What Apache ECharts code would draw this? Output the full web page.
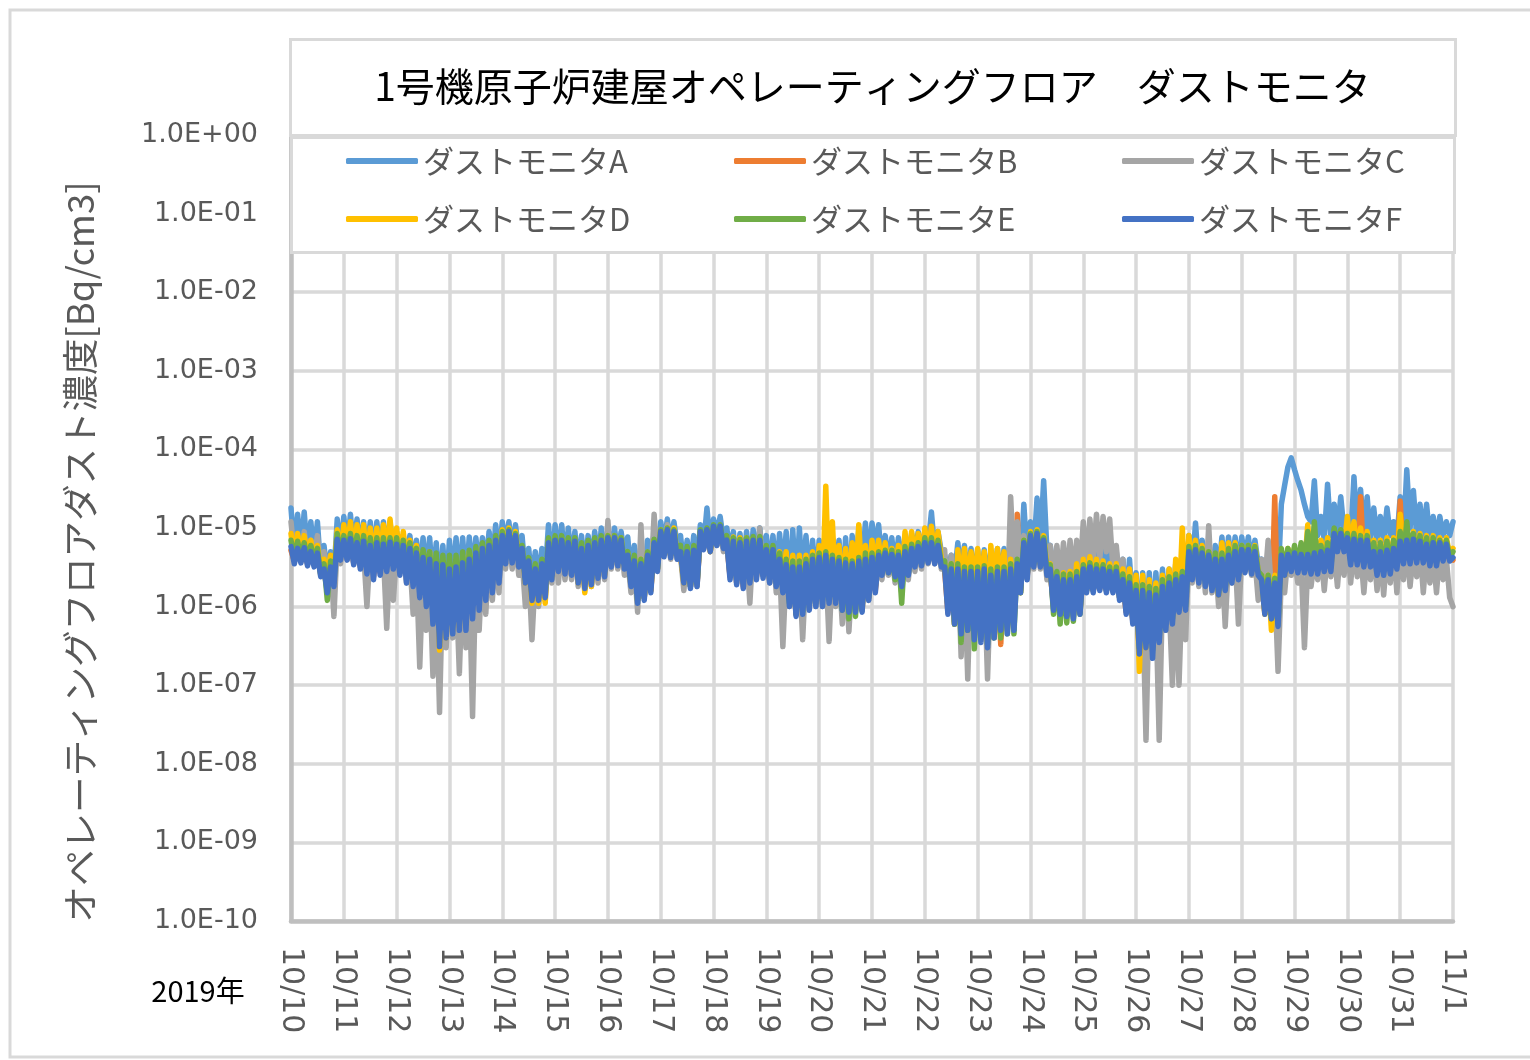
<!DOCTYPE html>
<html><head><meta charset="utf-8">
<script src="https://cdn.jsdelivr.net/npm/echarts@6/dist/echarts.min.js"></script>
<style>html,body{margin:0;padding:0;background:#fff}#c{width:1530px;height:1060px}</style>
</head><body><div id="c"></div>
<script>
// 2019-10-10 00:00 to 11-01 00:00, one reading every 1.5 hours (values in units of 1e-6 Bq/cm3)
const UNIT = 1e-6;
const STEP_HOURS = 1.5;
const titleText = '1号機原子炉建屋オペレーティングフロア　ダストモニタ';
const yAxisTitle = 'オペレーティングフロアダスト濃度[Bq/cm3]';
const yearLabel = '2019年';
const dateLabels = ['10/10','10/11','10/12','10/13','10/14','10/15','10/16','10/17','10/18','10/19','10/20','10/21','10/22','10/23','10/24','10/25','10/26','10/27','10/28','10/29','10/30','10/31','11/1'];
const yTickLabels = ['1.0E-10','1.0E-09','1.0E-08','1.0E-07','1.0E-06','1.0E-05','1.0E-04','1.0E-03','1.0E-02','1.0E-01','1.0E+00'];
const monitorNames = ['ダストモニタA','ダストモニタB','ダストモニタC','ダストモニタD','ダストモニタE','ダストモニタF'];
const monitorColors = ['#5B9BD5','#ED7D31','#A5A5A5','#FFC000','#70AD47','#4472C4'];

const monitorA = [
18,5.0,15,5.0,16,4.5,12,4.5,12,3.0,6.0,2.5,5.0,2.5,13,5.0,
14,5.0,15,5.0,13,5.0,12,4.0,12,4.0,12,4.0,12,4.5,12,4.5,
9.0,4.0,8.0,3.5,8.0,3.5,7.0,2.5,7.5,2.5,7.5,2.0,6.5,1.5,6.0,1.5,
7.0,2.0,7.5,2.0,7.5,2.0,7.7,2.5,7.5,3.0,7.5,3.0,9.0,3.5,11,4.0,
12,6.0,12,5.0,11,5.0,8.0,2.5,5.5,2.0,5.0,2.0,5.5,2.5,11,3.0,
11,4.0,11,3.5,10,3.5,9.0,3.0,8.0,3.0,8.0,3.0,9.0,3.5,10,3.5,
10,5.0,10,4.5,9.0,4.5,7.7,2.5,6.0,2.0,6.0,2.0,7.0,3.0,9.0,3.5,
12,6.0,13,6.0,12,6.0,8.0,3.0,7.0,3.0,8.0,3.0,11,6.0,18,6.0,
13,8.0,14,7.0,10,5.0,9.0,3.0,8.5,3.0,9.0,3.0,9.5,4.0,10,4.0,
8.0,3.0,8.0,2.5,8.5,2.5,9.0,1.5,9.5,1.5,10,2.0,8.0,2.0,7.0,2.0,
7.0,2.0,7.5,2.5,7.5,2.5,7.0,1.5,7.5,1.5,8.0,2.0,10,3.0,11.6,3.5,
11.6,5.0,11,3.5,8.0,3.5,7.5,3.0,7.5,3.0,8.0,3.5,8.5,5.0,9.0,5.0,
9.0,6.0,16,5.0,9.0,5.0,4.5,3.0,4.5,2.5,6.5,2.5,6.0,2.0,5.5,2.0,
5.3,2.0,5.3,2.0,5.0,2.0,5.5,2.0,5.5,2.0,6.0,3.0,8.0,3.0,20,4.0,
12,5.0,24,6.0,40,5.0,6.0,2.5,5.3,2.0,5.0,2.0,4.6,2.0,4.6,2.0,
7.0,2.0,7.7,2.0,7.0,2.0,6.0,2.0,5.0,2.0,5.0,1.5,4.0,1.0,4.0,1.0,
2.7,0.5,2.7,0.5,2.7,0.5,2.7,0.6,3.0,0.8,3.0,1.0,3.5,1.0,4.0,1.2,
8.0,3.0,11.6,3.0,7.0,3.0,6.0,2.5,6.0,2.5,7.7,2.5,7.7,3.0,7.7,3.0,
7.7,4.0,7.7,3.5,7.0,3.5,4.0,2.0,4.0,2.0,5.0,2.0,20,35,60,78,
55,40,30,20,14,12,40,8,14,7,36,8,20,9,25,9,
9,7,45,8,31,8,25,7,18,7,14,7,18,8,12,7,
25,8,55,10,30,8,20,8,20,7,14,7,14,8,12,8,
12];
const monitorB = [
5.2,3.8,5.0,3.8,5.0,3.5,4.5,3.4,4.3,2.6,2.8,1.7,3.0,2.0,6.5,4.0,
6.3,4.0,6.5,3.6,6.0,3.2,6.0,2.8,5.5,2.4,6.0,2.7,5.6,3.0,6.0,3.2,
5.6,2.7,5.4,2.2,5.0,2.0,4.3,1.4,3.8,1.1,3.6,0.7,3.2,0.35,3.0,0.45,
2.7,0.5,2.9,0.55,3.2,0.55,3.6,0.75,4.3,1.0,5.0,1.3,5.4,1.6,6.3,2.2,
7.2,3.8,8.0,3.8,7.2,3.4,5.0,2.2,3.4,1.3,2.8,1.3,3.2,1.4,5.8,2.4,
6.3,3.0,6.3,2.8,5.8,2.7,6.1,2.2,5.0,1.8,5.4,2.0,5.8,2.5,6.3,2.6,
6.8,3.4,6.8,3.5,6.3,3.2,4.0,1.9,3.4,1.2,3.2,1.3,4.0,1.6,5.8,3.0,
8.1,4.6,8.5,4.5,8.1,4.2,4.5,2.2,4.5,1.8,4.7,1.9,8.1,5.5,8.5,5.3,
9.4,6.3,9.4,5.8,6.3,2.4,6.1,2.0,5.8,1.8,6.1,2.1,6.3,2.4,6.3,2.5,
4.8,2.2,4.8,1.9,3.6,1.6,3.1,1.1,2.9,0.8,2.9,0.85,3.2,1.0,3.6,1.1,
3.8,1.1,4.0,1.2,3.6,1.2,3.4,1.0,3.2,0.9,3.2,0.9,3.4,0.9,3.6,1.3,
3.8,1.6,4.0,2.7,4.3,2.9,4.1,2.6,4.0,1.9,4.5,2.7,5.0,3.4,5.2,3.5,
5.8,3.8,5.8,3.7,5.4,3.4,2.9,0.85,2.7,0.65,2.7,0.48,2.5,0.55,2.5,0.4,
2.5,0.38,2.7,0.33,2.3,0.42,2.5,0.33,2.5,0.5,4.0,0.55,15,1.6,6.0,2.4,
7.2,3.4,7.6,3.4,6.3,2.7,2.7,1.0,2.2,0.85,2.0,0.8,2.0,0.75,2.2,0.85,
2.7,1.6,4.0,1.6,2.7,1.7,2.7,1.6,2.5,1.6,2.5,1.3,2.0,0.85,1.8,0.65,
1.4,0.27,1.4,0.32,1.35,0.24,1.3,0.38,1.6,0.55,1.8,0.65,2.0,0.9,2.2,1.0,
4.5,2.4,4.8,2.2,4.3,1.9,4.0,1.7,3.6,1.5,3.6,1.7,4.0,2.1,4.5,2.4,
4.8,2.9,4.8,2.8,4.5,2.7,2.0,0.85,2.0,0.75,25,0.6,4.0,2.7,4.1,3.0,
4.3,2.9,4.1,2.9,4.1,2.8,4.3,2.8,4.5,3.0,4.7,3.0,7.6,5.3,7.6,5.3,
6.8,3.6,6.5,3.6,25,3.4,6.3,3.4,4.5,2.7,4.5,2.7,4.7,2.8,5.0,3.2,
22,3.7,6.3,3.7,6.5,3.8,6.1,3.8,5.6,3.5,5.8,3.5,5.8,4.0,5.6,4.0,
3.9];
const monitorC = [
12,4.5,8.0,5.0,9.0,4.0,7.0,4.0,8.0,3.0,5.0,3.0,4.0,0.75,6.5,3.5,
7.0,4.0,7.0,3.5,6.5,3.5,5.0,1.0,5.5,3.0,5.0,3.0,4.5,0.53,5.0,1.2,
5.0,3.0,5.0,2.0,4.0,0.8,3.0,0.17,3.0,0.5,2.5,0.13,2.0,0.045,2.5,0.3,
2.5,0.4,2.0,0.14,2.5,0.3,2.0,0.04,3.0,0.5,4.0,0.8,5.0,1.2,6.0,1.5,
8.0,3.0,8.0,3.0,7.0,2.5,4.0,1.0,3.0,0.38,2.5,1.0,3.0,1.2,5.5,2.0,
6.5,2.0,6.5,2.2,6.0,2.2,6.0,1.8,5.0,1.6,5.5,1.8,6.0,2.0,6.0,2.2,
12.5,3.0,7.0,3.0,6.0,2.5,4.0,1.5,3.5,0.85,11,1.5,5.0,2.0,15,3.0,
9.0,5.0,11,4.0,8.0,4.0,4.5,1.6,4.5,1.8,5.0,1.8,8.0,5.5,9.0,5.0,
9.0,6.0,9.0,5.0,6.5,2.5,6.0,2.0,6.0,2.0,5.0,1.1,6.0,2.5,10,2.5,
5.0,2.0,5.0,1.5,3.5,0.31,3.0,1.0,3.0,0.9,3.0,0.38,3.0,1.0,4.0,1.0,
4.0,1.0,3.5,0.36,3.5,1.0,3.0,0.6,3.0,0.48,2.5,1.0,3.0,1.0,3.5,1.2,
4.0,2.0,4.0,2.2,4.5,2.5,4.5,2.0,4.5,1.5,5.0,2.2,5.5,2.8,6.0,3.0,
7.0,3.5,7.0,3.5,6.5,3.0,5.3,1.0,4.5,0.6,4.0,0.23,3.0,0.12,3.5,0.5,
3.0,0.5,2.5,0.12,2.5,0.4,3.0,0.6,4.0,1.0,25,3.0,12,4.0,8.0,3.0,
7.0,3.0,7.0,3.0,6.5,2.2,6.0,2.2,6.0,2.0,6.5,2.0,7.0,2.2,7.0,2.5,
12,3.0,13,4.0,15,4.0,14,5.0,13,3.0,6.0,2.0,4.0,1.0,3.0,0.8,
1.5,0.3,1.2,0.02,1.5,0.3,1.0,0.02,1.5,0.5,1.2,0.1,1.5,0.1,2.0,0.38,
5.0,2.0,5.0,1.8,4.5,1.5,10.7,1.5,4.0,1.0,4.0,0.56,4.0,2.0,4.5,0.6,
4.5,3.0,4.5,2.5,4.0,1.2,4.0,2.0,7.0,1.5,2.0,0.15,2.5,1.5,4.5,2.5,
4.0,2.0,3.5,0.3,3.5,1.8,4.0,2.2,5.0,1.6,5.0,2.4,5.0,1.8,6.0,2.5,
7.0,2.0,6.0,2.4,5.0,1.5,5.0,2.2,5.5,1.6,5.0,1.4,5.0,2.0,6.0,1.5,
6.0,2.2,6.0,1.8,5.0,2.4,6.0,1.5,5.0,2.0,4.5,1.5,5.0,2.2,4.0,1.3,
1.0];
const monitorD = [
8.5,4.0,8.5,4.0,8.0,3.8,7.0,3.8,6.0,2.8,4.0,2.5,4.5,2.5,9.5,4.5,
11,5.0,12,4.5,11,4.5,11,3.8,10,3.5,10,3.8,11,4.0,13,4.5,
10,4.0,9.0,3.5,7.0,3.0,6.0,2.2,5.0,2.0,5.0,1.0,4.0,0.28,4.0,0.4,
3.5,0.5,4.0,0.55,4.5,0.6,5.0,0.9,5.5,1.2,6.0,1.5,6.5,2.0,7.5,2.5,
9.5,4.5,10,4.2,9.0,4.0,5.5,2.0,4.0,1.1,3.2,1.1,3.8,1.1,7.0,2.3,
7.5,3.0,7.5,2.8,7.0,2.8,7.0,2.0,6.0,1.5,6.5,1.8,7.0,2.4,7.5,2.5,
8.0,3.5,8.0,3.4,7.5,3.2,4.8,1.9,4.2,1.2,4.0,1.3,4.8,1.6,7.0,3.0,
9.5,5.0,10,4.5,10,4.5,4.5,2.0,4.8,1.9,5.0,2.0,9.0,5.8,9.5,5.0,
10,6.5,10,6.0,7.7,3.0,7.7,2.5,7.5,2.5,7.5,2.6,7.5,3.0,7.5,2.8,
5.5,2.5,5.5,2.2,5.0,2.0,5.0,1.3,4.5,1.0,4.5,1.1,4.5,1.2,5.0,1.3,
6.0,1.5,34,1.6,12,1.5,6.0,1.4,5.5,1.6,6.5,1.8,11,2.0,6.0,1.6,
7.0,3.0,7.0,2.8,6.5,2.8,5.5,2.4,6.0,2.0,9.0,3.0,9.0,3.8,8.5,3.8,
10,4.5,10.5,4.2,9.0,4.0,3.5,1.0,3.5,0.6,5.3,1.6,5.5,1.6,5.0,1.7,
5.5,1.7,5.0,0.4,6.0,1.9,5.5,1.9,5.0,0.6,4.0,0.8,3.0,1.5,7.0,2.5,
9.0,3.5,9.5,3.5,8.0,3.0,3.5,1.0,2.7,0.9,2.7,1.7,2.8,1.0,3.5,1.0,
4.0,1.8,4.3,1.8,4.0,2.0,3.8,1.8,3.5,1.8,3.5,1.5,3.0,1.0,3.0,0.7,
2.5,0.15,2.5,0.3,2.2,0.3,2.0,0.45,2.5,0.6,3.0,0.7,4.0,1.0,10,1.2,
8.0,3.0,7.0,2.5,6.0,2.2,5.0,1.8,4.5,1.4,6.5,1.8,6.5,2.5,6.5,2.5,
6.0,3.0,6.0,2.8,6.0,2.7,2.5,0.8,2.5,0.5,2.5,0.7,5.0,2.5,5.5,3.5,
5.5,3.0,6.0,3.0,11,3.0,7.0,3.2,7.0,3.2,7.5,3.2,9.0,5.5,9.0,5.5,
14,5.0,12,4.5,10,4.0,9.0,4.0,7.0,3.0,7.0,3.0,7.5,3.2,7.5,3.5,
15,5.0,10,4.5,9.0,4.5,8.5,4.5,8.0,4.0,8.0,4.0,7.5,4.5,7.5,4.5,
5.5];
const monitorE = [
7.0,4.0,6.8,4.0,6.5,3.8,6.0,3.8,5.5,2.5,3.5,1.2,3.8,2.0,8.5,4.5,
8.0,4.5,8.5,4.0,8.0,4.0,8.0,3.2,7.5,3.0,7.5,3.2,7.5,3.5,7.5,3.5,
7.5,3.5,7.0,3.0,6.5,3.5,5.5,2.0,5.3,2.5,5.0,1.5,4.8,1.0,4.5,1.0,
4.5,1.0,4.5,1.0,5.0,1.0,5.2,1.2,5.8,1.5,6.5,1.7,7.0,2.0,8.0,2.5,
9.0,4.0,9.5,4.0,8.5,3.8,6.0,2.2,4.2,1.4,3.5,1.3,4.0,1.5,7.5,2.5,
8.0,3.2,8.0,3.0,7.5,3.0,7.5,2.3,6.5,2.0,7.0,2.2,7.5,2.8,8.0,2.8,
8.0,3.8,8.0,3.6,7.5,3.5,5.0,2.0,4.5,1.2,4.0,1.3,5.0,1.8,7.2,3.0,
9.5,5.0,10,4.5,9.5,4.5,6.0,2.2,5.8,1.8,6.0,2.0,9.5,6.0,10,5.5,
11,6.5,11,6.0,8.0,2.6,7.5,2.2,7.2,2.0,7.5,2.2,7.8,2.6,7.8,2.5,
6.0,2.3,6.0,2.0,4.8,1.7,4.0,1.1,3.8,0.8,3.8,0.85,4.0,1.0,4.5,1.1,
4.8,1.2,5.0,1.2,4.5,1.2,4.2,0.9,4.0,0.7,3.8,0.75,4.2,0.9,4.8,1.3,
4.8,1.8,5.0,2.6,5.2,2.7,5.2,2.2,5.0,1.1,5.8,2.6,6.2,3.5,6.5,3.5,
7.5,4.0,7.5,3.8,7.0,3.5,3.8,1.0,3.5,0.6,3.5,0.35,3.2,0.5,3.2,0.29,
3.2,0.4,3.3,0.33,3.0,0.4,3.2,0.4,3.2,0.45,3.5,0.45,4.0,1.5,7.0,2.5,
8.5,3.5,9.0,3.5,7.5,2.8,3.4,0.8,2.8,0.6,2.6,0.62,2.6,0.65,2.8,0.8,
3.4,1.6,3.6,1.6,3.4,1.8,3.4,1.6,3.2,1.6,3.2,1.3,2.6,0.9,2.4,0.7,
1.9,0.3,1.9,0.35,1.8,0.28,1.7,0.4,2.2,0.6,2.4,0.7,2.6,1.0,2.8,1.0,
5.8,2.4,6.0,2.2,5.5,2.0,5.0,1.8,4.8,1.5,4.8,1.7,5.5,2.2,6.0,2.4,
6.0,3.0,6.0,2.9,5.8,2.8,2.5,0.9,2.5,0.7,2.3,0.6,5.5,2.8,5.5,3.2,
6.0,3.0,6.5,3.0,9.0,3.0,12,3.2,6.0,3.0,6.5,3.2,10,5.5,9.5,5.5,
8.5,3.8,8.5,3.8,8.0,3.5,8.0,3.5,6.5,2.8,6.5,2.8,6.8,3.0,7.0,3.4,
9.0,4.0,12,4.0,8.5,4.0,8.0,4.0,7.5,3.6,7.5,3.6,7.0,4.2,7.0,4.2,
5.0];
const monitorF = [
5.8,3.5,5.5,3.6,5.6,3.3,5.0,3.2,4.8,2.4,3.0,1.5,3.2,1.8,7.2,3.9,
7.0,3.9,7.3,3.4,6.5,3.0,6.8,2.6,6.0,2.2,6.5,2.5,6.2,2.8,6.6,3.0,
6.2,2.5,6.0,2.0,5.5,1.8,4.8,1.3,4.2,1.0,4.0,0.6,3.5,0.31,3.4,0.4,
3.0,0.45,3.2,0.5,3.6,0.5,4.0,0.7,4.8,0.9,5.5,1.2,6.0,1.5,7.0,2.0,
8.0,3.5,9.0,3.6,8.0,3.2,5.5,2.0,3.8,1.2,3.0,1.2,3.5,1.3,6.5,2.2,
7.0,2.8,7.0,2.6,6.5,2.5,6.8,2.0,5.5,1.7,6.0,1.9,6.5,2.3,7.0,2.4,
7.5,3.2,7.5,3.3,7.0,3.0,4.5,1.8,3.8,1.1,3.5,1.2,4.5,1.5,6.5,2.8,
9.0,4.3,9.5,4.2,9.0,4.0,5.0,2.0,5.0,1.7,5.2,1.8,9.0,5.3,9.5,5.0,
10.5,6.0,10.5,5.5,7.0,2.2,6.8,1.9,6.5,1.7,6.8,2.0,7.0,2.2,7.0,2.3,
5.3,2.0,5.3,1.8,4.0,1.5,3.4,1.0,3.2,0.75,3.2,0.8,3.5,0.9,4.0,1.0,
4.2,1.0,4.5,1.1,4.0,1.1,3.8,0.9,3.6,0.85,3.5,0.85,3.8,0.85,4.0,1.2,
4.2,1.5,4.5,2.5,4.8,2.7,4.6,2.4,4.5,1.8,5.0,2.5,5.5,3.2,5.8,3.3,
6.5,3.6,6.5,3.5,6.0,3.2,3.2,0.8,3.0,0.6,3.0,0.45,2.8,0.5,2.8,0.38,
2.8,0.35,3.0,0.3,2.5,0.4,2.8,0.5,2.8,0.45,3.0,0.5,3.5,1.5,6.5,2.2,
8.0,3.2,8.5,3.2,7.0,2.5,3.0,0.9,2.4,0.8,2.2,0.75,2.2,0.7,2.4,0.8,
3.0,1.5,3.2,1.5,3.0,1.6,3.0,1.5,2.8,1.5,2.8,1.2,2.2,0.8,2.0,0.6,
1.6,0.25,1.6,0.3,1.5,0.22,1.4,0.35,1.8,0.5,2.0,0.6,2.2,0.85,2.4,0.9,
5.0,2.2,5.3,2.0,4.8,1.8,4.5,1.6,4.0,1.4,4.0,1.6,4.5,2.0,5.0,2.2,
5.3,2.7,5.3,2.6,5.0,2.5,2.2,0.8,2.2,0.7,2.0,0.56,4.5,2.5,4.6,2.8,
4.8,2.7,4.6,2.7,4.6,2.6,4.8,2.6,5.0,2.8,5.2,2.8,8.5,5.0,8.5,5.0,
7.5,3.4,7.2,3.4,7.0,3.2,7.0,3.2,5.0,2.5,5.0,2.5,5.2,2.6,5.5,3.0,
6.8,3.5,7.0,3.5,7.2,3.6,6.8,3.6,6.2,3.3,6.5,3.3,6.5,3.8,6.2,3.8,
4.2];

const monitorValues = [monitorA, monitorB, monitorC, monitorD, monitorE, monitorF];

const chart = echarts.init(document.getElementById('c'), null, {renderer: 'canvas'});
const JP = '"Noto Sans CJK JP", "Noto Sans", sans-serif';
const NUM = '"DejaVu Sans", "Noto Sans CJK JP", sans-serif';

const series = monitorValues.map((vals, i) => ({
  name: monitorNames[i],
  type: 'line',
  data: vals.map((v, j) => [j * STEP_HOURS / 24, v * UNIT]),
  showSymbol: false,
  symbol: 'none',
  z: 2 + i,
  color: monitorColors[i],
  lineStyle: {width: 5.5, color: monitorColors[i], cap: 'round', join: 'round'},
  emphasis: {disabled: true},
  animation: false
}));

const legendPos = [[341,138],[729,138],[1117,138],[341,196],[729,196],[1117,196]];
const legends = monitorNames.map((name, k) => ({
  show: true,
  z: 200,
  left: legendPos[k][0], top: legendPos[k][1],
  data: [{name: name, icon: 'roundRect'}],
  itemWidth: 72, itemHeight: 6,
  selectedMode: false,
  textStyle: {color: '#595959', fontSize: 31, fontFamily: JP, lineHeight: 36}
}));

chart.setOption({
  animation: false,
  backgroundColor: '#ffffff',
  grid: {left: 291, right: 77, top: 135, bottom: 139, containLabel: false},
  legend: legends,
  xAxis: {
    type: 'value', min: 0, max: 22, interval: 1,
    axisLine: {show: true, onZero: false, lineStyle: {color: '#bfbfbf', width: 4.5}},
    axisTick: {show: false},
    splitLine: {show: true, lineStyle: {color: '#d9d9d9', width: 3.5}},
    axisLabel: {
      rotate: -90, margin: 26, color: '#595959', fontSize: 30, fontFamily: NUM,
      formatter: v => dateLabels[Math.round(v)] || ''
    }
  },
  yAxis: {
    type: 'log', logBase: 10, min: 1e-10, max: 1, interval: 1,
    axisLine: {show: true, lineStyle: {color: '#bfbfbf', width: 4.5}},
    axisTick: {show: false},
    splitLine: {show: true, lineStyle: {color: '#d9d9d9', width: 3.5}},
    axisLabel: {
      margin: 33, color: '#595959', fontSize: 27, fontFamily: NUM,
      showMinLabel: true, showMaxLabel: true,
      formatter: v => yTickLabels[Math.round(Math.log10(v)) + 10] || ''
    }
  },
  series: series,
  graphic: [
    {type: 'rect', z: 100, shape: {x: 10, y: 10, width: 1540, height: 1047}, style: {fill: 'none', stroke: '#d9d9d9', lineWidth: 3}},
    {type: 'rect', z: 100, shape: {x: 290.5, y: 39.5, width: 1165, height: 96}, style: {fill: '#ffffff', stroke: '#d9d9d9', lineWidth: 3}},
    {type: 'rect', z: 100, shape: {x: 291.5, y: 137.5, width: 1163, height: 115}, style: {fill: '#ffffff', stroke: '#d9d9d9', lineWidth: 3}},
    {type: 'text', z: 101, x: 872.5, y: 86, style: {text: titleText, fontSize: 39, fontFamily: JP, fill: '#000000', align: 'center', verticalAlign: 'middle'}},
    {type: 'text', z: 101, x: 80, y: 552, rotation: Math.PI / 2, style: {text: yAxisTitle, fontSize: 36.5, fontFamily: JP, fill: '#595959', align: 'center', verticalAlign: 'middle'}},
    {type: 'text', z: 101, x: 198, y: 991, style: {text: yearLabel, fontSize: 29, fontFamily: JP, fill: '#000000', align: 'center', verticalAlign: 'middle'}}
  ]
});
</script></body></html>
